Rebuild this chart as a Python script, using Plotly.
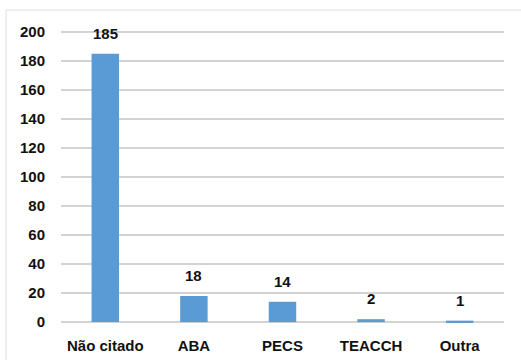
import plotly.graph_objects as go

# Teaching methods cited and how many times each appeared
categories = ["Não citado", "ABA", "PECS", "TEACCH", "Outra"]
counts = [185, 18, 14, 2, 1]

y_ticks = [0, 20, 40, 60, 80, 100, 120, 140, 160, 180, 200]

BAR_COLOR = "#5B9BD5"
GRID_COLOR = "#D3D3D3"
TEXT_COLOR = "#111111"
FONT = "Liberation Sans"

fig = go.Figure(
    go.Bar(
        x=categories,
        y=counts,
        marker=dict(color=BAR_COLOR, line=dict(width=0)),
        width=0.31,
        hoverinfo="x+y",
    )
)

# Value labels above each bar
for cat, val in zip(categories, counts):
    fig.add_annotation(
        x=cat, y=val, text=f"<b>{val}</b>", showarrow=False,
        yanchor="bottom", yshift=10,
        font=dict(family=FONT, size=15, color=TEXT_COLOR),
    )

# Thin outer frame of the chart area
fig.add_shape(
    type="rect", xref="paper", yref="paper",
    x0=-0.124, x1=1.2, y0=-0.3, y1=1.064,
    line=dict(color="#DDDDDD", width=1), fillcolor="rgba(0,0,0,0)",
    layer="below",
)

fig.update_layout(
    width=521, height=360,
    margin=dict(l=61, r=17, t=29, b=35),
    paper_bgcolor="white", plot_bgcolor="white",
    showlegend=False,
    font=dict(family=FONT, size=15, color=TEXT_COLOR),
    xaxis=dict(
        automargin=False,
        showgrid=False, showline=False, zeroline=False,
        ticks="", ticklabelstandoff=10,
        tickfont=dict(family=FONT, size=15, color=TEXT_COLOR, weight="bold"),
    ),
    yaxis=dict(
        automargin=False,
        range=[-2, 202], tickmode="array", tickvals=y_ticks,
        showgrid=True, gridcolor=GRID_COLOR, gridwidth=1.5,
        zeroline=False, showline=False,
        ticklabelstandoff=15,
        tickfont=dict(family=FONT, size=15, color=TEXT_COLOR, weight="bold"),
    ),
)

fig.write_html("out.html")
